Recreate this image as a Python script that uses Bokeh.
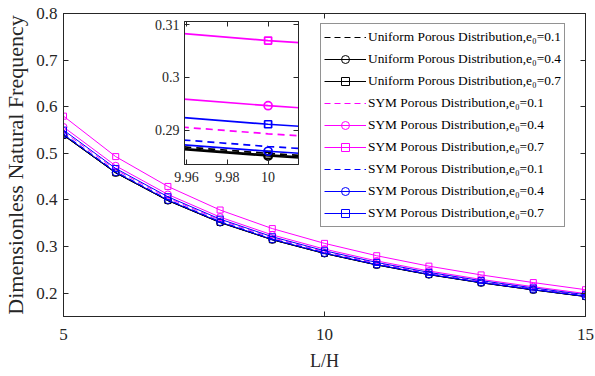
from bokeh.plotting import figure
from bokeh.models import FixedTicker, LinearAxis, Range1d, Legend, LegendItem
from bokeh.layouts import column
from bokeh.embed import file_html
from bokeh.resources import INLINE

# ---------------- data ----------------
LH = [5, 6, 7, 8, 9, 10, 11, 12, 13, 14, 15]

uni_e01 = [0.5396, 0.4588, 0.3992, 0.3521, 0.3151, 0.2856, 0.2610, 0.2401, 0.2226, 0.2074, 0.1931]
uni_e04 = [0.5386, 0.4580, 0.3985, 0.3515, 0.3145, 0.2851, 0.2605, 0.2397, 0.2222, 0.2070, 0.1928]
uni_e07 = [0.5390, 0.4583, 0.3988, 0.3517, 0.3147, 0.2853, 0.2607, 0.2399, 0.2224, 0.2071, 0.1929]
symm_e01 = [0.5465, 0.4647, 0.4044, 0.3567, 0.3191, 0.2893, 0.2643, 0.2432, 0.2255, 0.2100, 0.1956]
symm_e04 = [0.5565, 0.4733, 0.4118, 0.3632, 0.3250, 0.2946, 0.2692, 0.2477, 0.2296, 0.2139, 0.1992]
symm_e07 = [0.5798, 0.4930, 0.4290, 0.3784, 0.3386, 0.3069, 0.2804, 0.2580, 0.2392, 0.2228, 0.2075]
symb_e01 = [0.5420, 0.4609, 0.4010, 0.3537, 0.3165, 0.2869, 0.2621, 0.2412, 0.2236, 0.2083, 0.1940]
symb_e04 = [0.5403, 0.4595, 0.3998, 0.3526, 0.3155, 0.2860, 0.2613, 0.2405, 0.2229, 0.2077, 0.1934]
symb_e07 = [0.5499, 0.4676, 0.4069, 0.3589, 0.3211, 0.2911, 0.2660, 0.2447, 0.2269, 0.2113, 0.1968]

labels = [
    "Uniform Porous Distribution,e\u2080=0.1",
    "Uniform Porous Distribution,e\u2080=0.4",
    "Uniform Porous Distribution,e\u2080=0.7",
    "SYM Porous Distribution,e\u2080=0.1",
    "SYM Porous Distribution,e\u2080=0.4",
    "SYM Porous Distribution,e\u2080=0.7",
    "SYM Porous Distribution,e\u2080=0.1",
    "SYM Porous Distribution,e\u2080=0.4",
    "SYM Porous Distribution,e\u2080=0.7",
]
values = [uni_e01, uni_e04, uni_e07, symm_e01, symm_e04, symm_e07, symb_e01, symb_e04, symb_e07]
colors = ["#000000"] * 3 + ["#FF00FF"] * 3 + ["#0000FF"] * 3
dashes = ["dashed", "solid", "solid"] * 3
markers = [None, "circle", "square"] * 3

main_xticks = [5, 10, 15]
main_yticks = [0.2, 0.3, 0.4, 0.5, 0.6, 0.7, 0.8]
inset_xticks = [9.96, 9.98, 10.0]
inset_yticks = [0.29, 0.30, 0.31]

FONT = "Liberation Serif"
AX = "#262626"


def style_axis(ax, size, show_labels=True):
    ax.axis_line_color = AX
    ax.major_tick_line_color = AX
    ax.minor_tick_line_color = None
    ax.major_tick_in = 5
    ax.major_tick_out = 0
    ax.major_label_text_font = FONT
    ax.major_label_text_font_size = size
    ax.major_label_text_color = AX
    ax.axis_label_text_font = FONT
    ax.axis_label_text_font_style = "normal"
    ax.axis_label_text_color = AX
    if not show_labels:
        ax.major_label_text_font_size = "0px"
        ax.major_label_text_alpha = 0
        ax.major_label_standoff = 0


def draw(fig, lw, csize, ssize, dash_pat, collect=None):
    for vals, col, dash, mk in zip(values, colors, dashes, markers):
        ld = dash_pat if dash == "dashed" else "solid"
        r_line = fig.line(LH, vals, line_color=col, line_width=lw, line_dash=ld)
        rs = [r_line]
        if mk is not None:
            r_sc = fig.scatter(LH, vals, marker=mk, size=csize if mk == "circle" else ssize,
                               line_color=col, line_width=lw, fill_alpha=0)
            rs.append(r_sc)
        if collect is not None:
            collect.append(rs)


# ---------------- main figure ----------------
M_L, M_R, M_T, M_B = 63, 10, 13, 60
p = figure(width=595, height=376, output_backend="svg", toolbar_location=None,
           x_range=Range1d(5, 15), y_range=Range1d(0.15, 0.8),
           min_border_left=M_L, min_border_right=M_R, min_border_top=M_T, min_border_bottom=M_B)
p.grid.visible = False
p.outline_line_color = AX
p.background_fill_color = "white"
p.border_fill_color = "white"

p.xaxis.ticker = FixedTicker(ticks=main_xticks)
p.yaxis.ticker = FixedTicker(ticks=main_yticks)
p.xaxis.axis_label = "L/H"
p.yaxis.axis_label = "Dimensionless Natural Frequency"
for ax in p.xaxis + p.yaxis:
    style_axis(ax, "17px")
p.xaxis.axis_label_text_font_size = "18px"
p.yaxis.axis_label_text_font_size = "22px"
p.xaxis.major_label_standoff = 12
p.xaxis.axis_label_standoff = 8
p.yaxis.major_label_standoff = 6
p.yaxis.axis_label_standoff = 5

top_ax = LinearAxis(ticker=FixedTicker(ticks=main_xticks))
right_ax = LinearAxis(ticker=FixedTicker(ticks=main_yticks))
style_axis(top_ax, "17px", show_labels=False)
style_axis(right_ax, "17px", show_labels=False)
p.add_layout(top_ax, "above")
p.add_layout(right_ax, "right")

groups = []
draw(p, 1.0, 7, 6, "6 4", groups)

items = [LegendItem(label=lab, renderers=rs) for lab, rs in zip(labels, groups)]
legend = Legend(items=items, location=(257, 89))
legend.label_text_font = FONT
legend.label_text_font_size = "13.4px"
legend.label_text_color = "#000000"
legend.glyph_width = 42
legend.glyph_height = 20
legend.label_height = 20
legend.spacing = 2
legend.padding = 3
legend.margin = 0
legend.label_standoff = 2
legend.border_line_color = AX
legend.border_line_width = 1
legend.background_fill_color = "white"
legend.background_fill_alpha = 1
p.add_layout(legend)

# ---------------- inset ----------------
# left/right borders equal to the main figure's, since a column aligns the frames
B_L, B_R, B_T, B_B = M_L, M_R, 2, 40
IN_W, IN_H = B_L + 114 + B_R, B_T + 143 + B_B
inset = figure(width=IN_W, height=IN_H, output_backend="svg", toolbar_location=None,
               x_range=Range1d(9.959, 10.0149), y_range=Range1d(0.2835, 0.3105),
               min_border_left=B_L, min_border_right=B_R, min_border_top=B_T, min_border_bottom=B_B)
inset.grid.visible = False
inset.outline_line_color = AX
inset.background_fill_color = "white"
inset.border_fill_alpha = 0
inset.xaxis.ticker = FixedTicker(ticks=inset_xticks)
inset.yaxis.ticker = FixedTicker(ticks=inset_yticks)
for ax in inset.xaxis + inset.yaxis:
    style_axis(ax, "14px")
    ax.axis_label = None
inset.xaxis.major_label_overrides = {9.96: "9.96", 9.98: "9.98", 10.0: "10"}
inset.yaxis.major_label_overrides = {0.29: "0.29", 0.30: "0.3", 0.31: "0.31"}
inset.xaxis.major_label_standoff = 7
inset.yaxis.major_label_standoff = 5
in_top = LinearAxis(ticker=FixedTicker(ticks=inset_xticks))
in_right = LinearAxis(ticker=FixedTicker(ticks=inset_yticks))
style_axis(in_top, "14px", show_labels=False)
style_axis(in_right, "14px", show_labels=False)
inset.add_layout(in_top, "above")
inset.add_layout(in_right, "right")
draw(inset, 1.7, 8, 7, "7 5")
inset.styles = {"position": "absolute", "left": f"{184 - B_L}px", "top": f"{21 - B_T}px",
                "width": f"{IN_W}px", "height": f"{IN_H}px"}

layout = column(p, inset)
layout.styles = {"position": "relative"}

open("out.html", "w").write(file_html(layout, INLINE))
